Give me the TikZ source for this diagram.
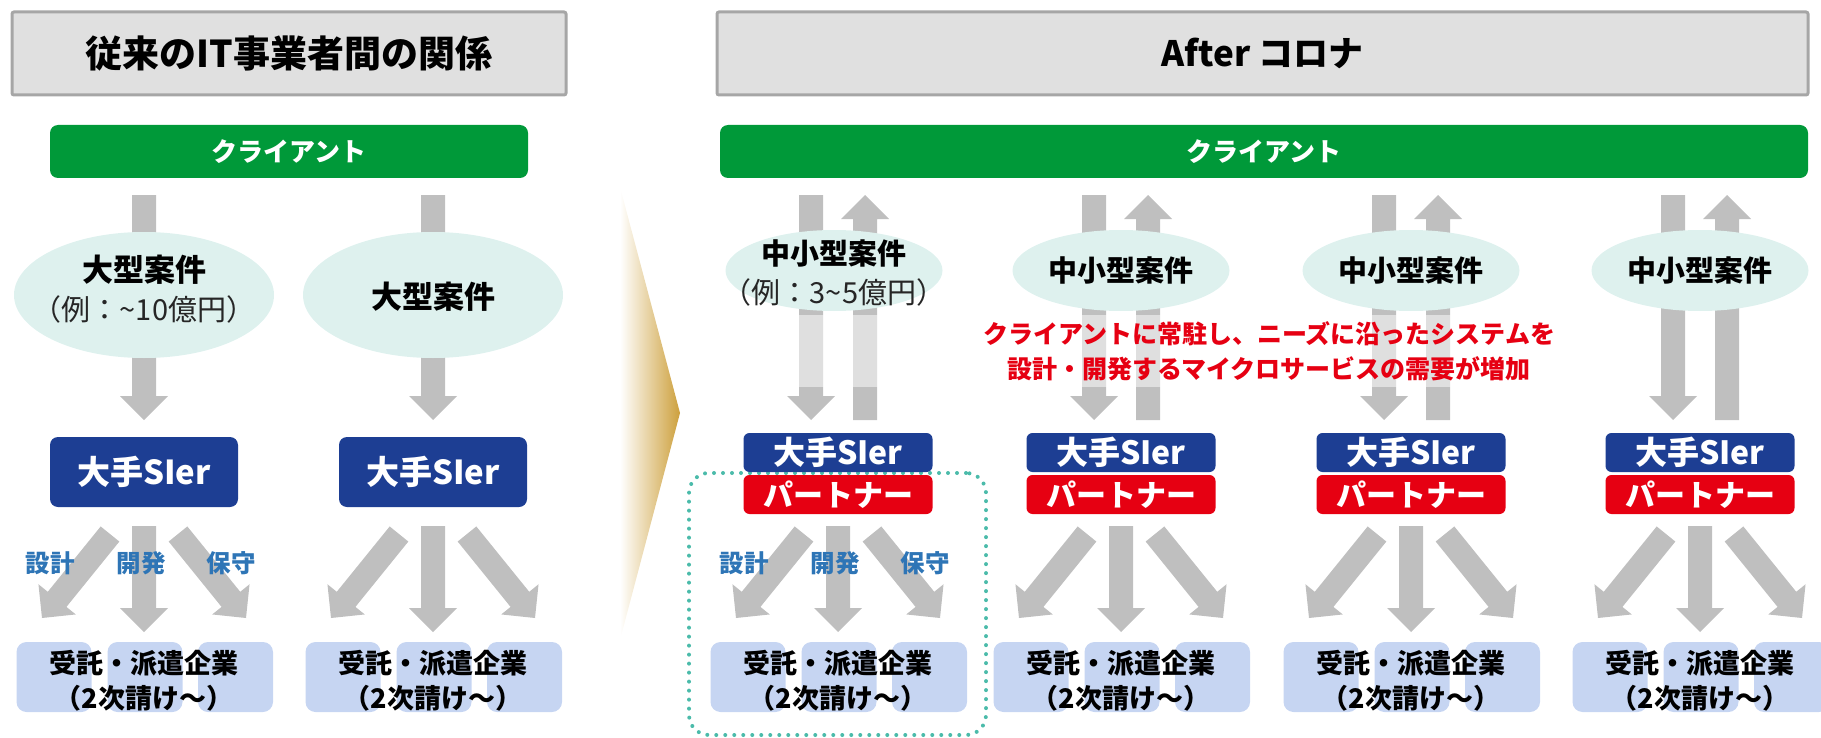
\documentclass[tikz,border=0pt]{standalone}
\usepackage{fontspec}
\setmainfont{Noto Sans CJK JP}
\usetikzlibrary{calc,shapes.geometric}
\definecolor{hdrfill}{RGB}{224,224,224}
\definecolor{hdrline}{RGB}{166,166,166}
\definecolor{cgreen}{RGB}{0,153,57}
\definecolor{sierblue}{RGB}{29,62,147}
\definecolor{pred}{RGB}{230,0,18}
\definecolor{ellfill}{RGB}{222,241,238}
\definecolor{agray}{RGB}{191,191,191}
\definecolor{lblue}{RGB}{46,117,182}
\definecolor{boxblue}{RGB}{198,213,242}
\definecolor{dotteal}{RGB}{75,187,170}
\definecolor{chgold}{RGB}{205,160,60}
\newcommand\myfs[1]{\fontsize{#1}{#1}\selectfont}
\newcommand\barrow[3]{%
  \coordinate (bh) at ($(#2)!12pt!(#1)$);
  \fill[#3] ($(#1)!6pt!90:(#2)$) -- ($(bh)!6pt!90:(#2)$) -- ($(bh)!12pt!90:(#2)$) -- (#2)
    -- ($(bh)!12pt!-90:(#2)$) -- ($(bh)!6pt!-90:(#2)$) -- ($(#1)!6pt!-90:(#2)$) -- cycle;}
\begin{document}
\begin{tikzpicture}[x=0.5pt,y=-0.5pt,
  hdr/.style={draw=hdrline, line width=1.5pt, fill=hdrfill, rounded corners=1pt, minimum height=41.5pt, inner sep=0pt, font=\myfs{18.5}\bfseries},
  client/.style={fill=cgreen, rounded corners=4pt, minimum height=26.5pt, inner sep=0pt, text=white, font=\myfs{13}\bfseries},
  ell/.style={ellipse, fill=ellfill, inner sep=0pt},
  etitle/.style={inner sep=0pt, font=\myfs{14.5}\bfseries},
  esub/.style={inner sep=0pt, text=black!85, font=\myfs{14.5}},
  sierL/.style={fill=sierblue, rounded corners=4pt, minimum width=94pt, minimum height=35pt, inner sep=0pt, text=white, font=\myfs{16.5}\bfseries},
  sierR/.style={fill=sierblue, rounded corners=3pt, minimum width=94.5pt, minimum height=19.5pt, inner sep=0pt, text=white, font=\myfs{16}\bfseries},
  partner/.style={fill=pred, rounded corners=3pt, minimum width=94.5pt, minimum height=19.5pt, inner sep=0pt, text=white, font=\myfs{15}\bfseries},
  lbox/.style={fill=boxblue, rounded corners=5pt, minimum width=37.5pt, minimum height=35pt, inner sep=0pt},
  btxt/.style={inner sep=0pt, font=\myfs{13.5}\bfseries},
  lab/.style={inner sep=0pt, text=lblue, font=\myfs{12.25}\bfseries},
  redtxt/.style={inner sep=0pt, text=pred, font=\myfs{12.5}\bfseries},
  dotbox/.style={draw=dotteal, line width=2pt, dash pattern=on 0pt off 4.5pt, line cap=round, rounded corners=10pt, minimum width=148.5pt, minimum height=131pt, inner sep=0pt}
]
\useasboundingbox (0,0) rectangle (1821,738);

% headers
\node[hdr, minimum width=277pt] (hdrL) at (289,53.5) {従来のIT事業者間の関係};
\node[hdr, minimum width=545.5pt] (hdrR) at (1262.5,53.5) {\myfs{17.5}After コロナ};

% transition chevron
\shade[left color=white, right color=chgold] (620,187) -- (680,413) -- (620,640) -- cycle;

% client bars
\node[client, minimum width=239pt] (cliL) at (289,151.5) {クライアント};
\node[client, minimum width=544pt] (cliR) at (1264,151.5) {クライアント};

% left columns: top arrows
\foreach \c/\i in {144/1,433/2} {
  \coordinate (ta\i) at (\c,195);
  \coordinate (tb\i) at (\c,420);
  \barrow{ta\i}{tb\i}{agray}
}
% right columns: down and up arrows
\foreach \c/\i in {838/3,1121/4,1411/5,1700/6} {
  \coordinate (da\i) at (\c-27,195);
  \coordinate (db\i) at (\c-27,420);
  \coordinate (ua\i) at (\c+27,420);
  \coordinate (ub\i) at (\c+27,195);
  \barrow{da\i}{db\i}{agray}
  \barrow{ua\i}{ub\i}{agray}
}
% light overlay behind the red message
\fill[white, fill opacity=0.5] (780,315) rectangle (1470,387);

% ellipses
\node[ell, minimum width=130pt, minimum height=63pt] (e1) at (144,295) {};
\node[etitle, font=\myfs{15.5}\bfseries] (e1a) at (144,270) {大型案件};
\node[esub] (e1b) at (144,309) {（例：{\char"007E}10億円）};
\node[ell, minimum width=130pt, minimum height=63pt] (e2) at (433,295) {};
\node[etitle, font=\myfs{15.5}\bfseries] (e2a) at (433,297) {大型案件};

\node[ell, minimum width=108.5pt, minimum height=40.5pt] (e3) at (834,270.5) {};
\node[etitle] (e3a) at (834,253) {中小型案件};
\node[esub] (e3b) at (834,292) {（例：3{\char"007E}5億円）};
\foreach \c/\i in {1121/4,1411/5,1700/6} {
  \node[ell, minimum width=108.5pt, minimum height=40.5pt] (e\i) at (\c,270.5) {};
  \node[etitle] (e\i a) at (\c,270) {中小型案件};
}

% red message
\node[redtxt] (rt1) at (1269,334) {クライアントに常駐し、ニーズに沿ったシステムを};
\node[redtxt] (rt2) at (1269,369) {設計・開発するマイクロサービスの需要が増加};

% SIer boxes
\node[sierL] (s1) at (144,472) {大手SIer};
\node[sierL] (s2) at (433,472) {大手SIer};

% dotted group
\node[dotbox] (grp) at (837.5,604) {};

\foreach \c/\i in {838/3,1121/4,1411/5,1700/6} {
  \node[sierR] (s\i) at (\c,452.5) {大手SIer};
  \node[partner] (p\i) at (\c,494.5) {パートナー};
}

% bottom rows
\foreach \c/\i in {144/1,433/2,838/3,1121/4,1411/5,1700/6} {
  \coordinate (la\i) at (\c-34,534);
  \coordinate (lb\i) at (\c-102,618);
  \coordinate (ca\i) at (\c,526);
  \coordinate (cb\i) at (\c,632);
  \coordinate (ra\i) at (\c+34,534);
  \coordinate (rb\i) at (\c+102,618);
  \barrow{la\i}{lb\i}{agray}
  \barrow{ca\i}{cb\i}{agray}
  \barrow{ra\i}{rb\i}{agray}
  \node[lbox] (bx\i a) at (\c-90,677) {};
  \node[lbox] (bx\i b) at (\c+1,677) {};
  \node[lbox] (bx\i c) at (\c+91.5,677) {};
  \node[btxt] (bt\i a) at (\c,663) {受託・派遣企業};
  \node[btxt] (bt\i b) at (\c,698) {（2次請け～）};
}
\foreach \c/\i in {144/1,838/3} {
  \node[lab] (lb\i a) at (\c-94,563) {設計};
  \node[lab] (lb\i b) at (\c-3,563) {開発};
  \node[lab] (lb\i c) at (\c+87,563) {保守};
}
\end{tikzpicture}
\end{document}
